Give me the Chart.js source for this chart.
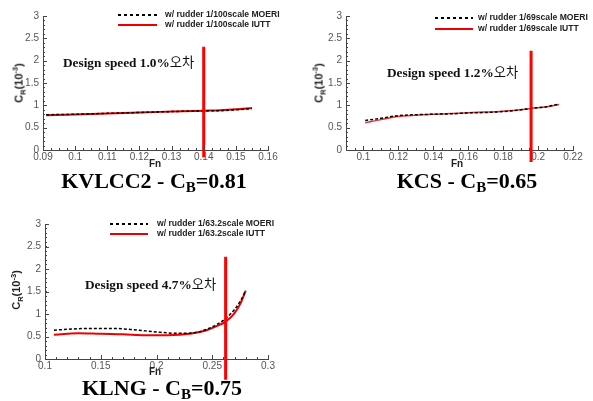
<!DOCTYPE html>
<html>
<head>
<meta charset="utf-8">
<script src="https://cdn.jsdelivr.net/npm/chart.js@4.4.1/dist/chart.umd.min.js"></script>
<style>
  body { margin: 0; background: #fff; width: 593px; height: 401px; overflow: hidden; position: relative; }
  canvas { position: absolute; }
  .lbl { position: absolute; white-space: nowrap; }
  .legend { font: bold 8.6px "Liberation Sans", Arial, sans-serif; color: #222; }
  .swatch { position: absolute; height: 2px; }
  .dash { background: repeating-linear-gradient(to right, #000 0 3px, transparent 3px 6px); }
  .solid { background: #e00; }
  .design { font: bold 13.3px "Liberation Serif", "Times New Roman", serif; color: #111; transform: translateY(-50%); }
  .design .ko { font-family: "Noto Sans CJK KR", sans-serif; font-weight: normal; }
  .axis-x { font: bold 10px "Liberation Sans", Arial, sans-serif; color: #222; transform: translate(-50%, -50%); }
  .axis-y { font: bold 11px "Liberation Sans", Arial, sans-serif; color: #222; transform: translate(-50%, -50%) rotate(-90deg); }
  .axis-y sub, .axis-y sup { font-size: 7.5px; }
  .title { font: bold 22px "Liberation Serif", "Times New Roman", serif; color: #000; transform: translate(-50%, -50%); }
  .title sub { font-size: 15px; vertical-align: -4px; line-height: 0; }
</style>
</head>
<body>
<canvas id="c1" width="300" height="175" style="left:0;top:0"></canvas>
<canvas id="c2" width="293" height="175" style="left:300px;top:0"></canvas>
<canvas id="c3" width="300" height="175" style="left:0;top:205px"></canvas>

<!-- KVLCC2 -->
<div class="swatch dash" style="left:118px;top:14px;width:39px"></div>
<div class="swatch solid" style="left:118px;top:24px;width:39px"></div>
<div class="lbl legend" style="left:165px;top:9px">w/ rudder 1/100scale MOERI</div>
<div class="lbl legend" style="left:165px;top:19px">w/ rudder 1/100scale IUTT</div>
<div class="lbl design" style="left:63px;top:61px">Design speed 1.0%<span class="ko">오차</span></div>
<div class="lbl axis-x" style="left:155px;top:163px">Fn</div>
<div class="lbl axis-y" style="left:19px;top:83px">C<sub>R</sub>(10<sup>-3</sup>)</div>
<div class="lbl title" style="left:154px;top:181px">KVLCC2 - C<sub>B</sub>=0.81</div>

<!-- KCS -->
<div class="swatch dash" style="left:435px;top:17px;width:38px"></div>
<div class="swatch solid" style="left:435px;top:28px;width:38px"></div>
<div class="lbl legend" style="left:478px;top:12px">w/ rudder 1/69scale MOERI</div>
<div class="lbl legend" style="left:478px;top:23px">w/ rudder 1/69scale IUTT</div>
<div class="lbl design" style="left:387px;top:71px">Design speed 1.2%<span class="ko">오차</span></div>
<div class="lbl axis-x" style="left:457px;top:163px">Fn</div>
<div class="lbl axis-y" style="left:319px;top:83px">C<sub>R</sub>(10<sup>-3</sup>)</div>
<div class="lbl title" style="left:467px;top:181px">KCS - C<sub>B</sub>=0.65</div>

<!-- KLNG -->
<div class="swatch dash" style="left:110px;top:223px;width:38px"></div>
<div class="swatch solid" style="left:110px;top:233px;width:38px"></div>
<div class="lbl legend" style="left:157px;top:218px">w/ rudder 1/63.2scale MOERI</div>
<div class="lbl legend" style="left:157px;top:228px">w/ rudder 1/63.2scale IUTT</div>
<div class="lbl design" style="left:85px;top:283px">Design speed 4.7%<span class="ko">오차</span></div>
<div class="lbl axis-x" style="left:155px;top:371px">Fn</div>
<div class="lbl axis-y" style="left:17px;top:290px">C<sub>R</sub>(10<sup>-3</sup>)</div>
<div class="lbl title" style="left:162px;top:388px">KLNG - C<sub>B</sub>=0.75</div>

<script>
// === Data ===
const yTicks = [0, 0.5, 1, 1.5, 2, 2.5, 3];

// KVLCC2
const kvlccFn = [0.091, 0.10, 0.11, 0.12, 0.13, 0.14, 0.145, 0.15, 0.155];
const kvlccMoeri = [0.79, 0.80, 0.82, 0.84, 0.86, 0.875, 0.88, 0.90, 0.93];
const kvlccIutt = [0.78, 0.795, 0.815, 0.84, 0.86, 0.88, 0.89, 0.91, 0.94];
const kvlccXTicks = [0.09, 0.1, 0.11, 0.12, 0.13, 0.14, 0.15, 0.16];
const kvlccDesign = [0.14, 2.31, -0.16]; // Fn, top, bottom

// KCS
const kcsFn = [0.101, 0.11, 0.12, 0.13, 0.14, 0.15, 0.16, 0.17, 0.18, 0.19, 0.196, 0.205, 0.212];
const kcsMoeri = [0.66, 0.71, 0.77, 0.79, 0.80, 0.81, 0.83, 0.84, 0.86, 0.90, 0.93, 0.97, 1.03];
const kcsIutt = [0.61, 0.68, 0.75, 0.78, 0.80, 0.815, 0.835, 0.85, 0.87, 0.90, 0.93, 0.97, 1.02];
const kcsXTicks = [0.1, 0.12, 0.14, 0.16, 0.18, 0.2, 0.22];
const kcsDesign = [0.196, 2.22, -0.27];

// KLNG
const klngFnMoeri = [0.108, 0.12, 0.14, 0.16, 0.18, 0.20, 0.22, 0.235, 0.245, 0.255, 0.262, 0.27, 0.275, 0.28];
const klngMoeri = [0.64, 0.66, 0.68, 0.68, 0.65, 0.60, 0.57, 0.59, 0.66, 0.78, 0.90, 1.10, 1.28, 1.52];
const klngFnIutt = [0.108, 0.12, 0.13, 0.15, 0.17, 0.19, 0.21, 0.23, 0.245, 0.255, 0.262, 0.27, 0.275, 0.28];
const klngIutt = [0.54, 0.56, 0.575, 0.56, 0.55, 0.53, 0.53, 0.56, 0.64, 0.74, 0.83, 1.02, 1.22, 1.52];
const klngXTicks = [0.1, 0.15, 0.2, 0.25, 0.3];
const klngDesign = [0.262, 2.27, -0.46];

// === Helpers ===
const pts = (xs, ys) => xs.map((x, i) => ({ x: x, y: ys[i] }));
const fmt = v => String(+(+v).toFixed(3));

// inward major + minor ticks, drawn from the scales
const innerTicks = {
    id: 'innerTicks',
    afterDraw(chart, args, opts) {
        const ctx = chart.ctx;
        const xs = chart.scales.x, ys = chart.scales.y;
        const area = chart.chartArea;
        ctx.save();
        ctx.strokeStyle = '#444';
        ctx.lineWidth = 1;
        ctx.beginPath();
        for (let v = xs.min; v <= xs.max + 1e-9; v += opts.xMinor) {
            const px = Math.round(xs.getPixelForValue(v)) + 0.5;
            ctx.moveTo(px, area.bottom); ctx.lineTo(px, area.bottom - 2);
        }
        xs.ticks.forEach(t => {
            const px = Math.round(xs.getPixelForValue(t.value)) + 0.5;
            ctx.moveTo(px, area.bottom); ctx.lineTo(px, area.bottom - 4);
        });
        for (let v = ys.min; v <= ys.max + 1e-9; v += opts.yMinor) {
            const py = Math.round(ys.getPixelForValue(v)) + 0.5;
            ctx.moveTo(area.left, py); ctx.lineTo(area.left + 2, py);
        }
        ys.ticks.forEach(t => {
            const py = Math.round(ys.getPixelForValue(t.value)) + 0.5;
            ctx.moveTo(area.left, py); ctx.lineTo(area.left + 4, py);
        });
        ctx.stroke();
        ctx.restore();
    }
};

function makeChart(id, cfg) {
    const tickFont = { family: '"Liberation Sans", Arial, sans-serif', size: 10 };
    return new Chart(document.getElementById(id), {
        type: 'line',
        data: {
            datasets: [
                {
                    label: 'design',
                    data: [{ x: cfg.design[0], y: cfg.design[1] }, { x: cfg.design[0], y: cfg.design[2] }],
                    borderColor: '#ff0000', borderWidth: 3, pointRadius: 0,
                    clip: false, order: 0
                },
                {
                    label: cfg.moeriLabel,
                    data: cfg.moeri,
                    borderColor: '#000', borderWidth: 1.5, borderDash: [3, 2],
                    pointRadius: 0, cubicInterpolationMode: 'monotone', order: 1
                },
                {
                    label: cfg.iuttLabel,
                    data: cfg.iutt,
                    borderColor: cfg.iuttColor, borderWidth: cfg.iuttWidth,
                    pointRadius: 0, cubicInterpolationMode: 'monotone', order: 2
                }
            ]
        },
        options: {
            responsive: false,
            animation: false,
            layout: { padding: cfg.padding },
            plugins: {
                legend: { display: false },
                tooltip: { enabled: false },
                innerTicks: { xMinor: cfg.xMinor, yMinor: 0.1 }
            },
            scales: {
                x: {
                    type: 'linear',
                    min: cfg.xMin, max: cfg.xMax,
                    afterBuildTicks: s => { s.ticks = cfg.xTicks.map(v => ({ value: v })); },
                    afterFit: s => { s.height = 20; },
                    grid: { display: false, drawTicks: false },
                    border: { color: '#444', width: 1 },
                    ticks: { font: tickFont, color: '#555', padding: 1, maxRotation: 0, autoSkip: false, callback: fmt }
                },
                y: {
                    type: 'linear',
                    min: 0, max: 3,
                    afterBuildTicks: s => { s.ticks = yTicks.map(v => ({ value: v })); },
                    afterFit: s => { s.width = cfg.yWidth; },
                    grid: { display: false, drawTicks: false },
                    border: { color: '#444', width: 1 },
                    ticks: { font: tickFont, color: '#555', padding: 4, autoSkip: false, callback: fmt }
                }
            }
        },
        plugins: [innerTicks]
    });
}

makeChart('c1', {
    moeri: pts(kvlccFn, kvlccMoeri), iutt: pts(kvlccFn, kvlccIutt),
    moeriLabel: 'w/ rudder 1/100scale MOERI', iuttLabel: 'w/ rudder 1/100scale IUTT',
    iuttColor: '#e00', iuttWidth: 2,
    design: kvlccDesign, xTicks: kvlccXTicks, xMin: 0.09, xMax: 0.16, xMinor: 0.0025,
    yWidth: 43, padding: { top: 16, right: 32, bottom: 5, left: 0 }
});

makeChart('c2', {
    moeri: pts(kcsFn, kcsMoeri), iutt: pts(kcsFn, kcsIutt),
    moeriLabel: 'w/ rudder 1/69scale MOERI', iuttLabel: 'w/ rudder 1/69scale IUTT',
    iuttColor: '#e33', iuttWidth: 1.5,
    design: kcsDesign, xTicks: kcsXTicks, xMin: 0.09, xMax: 0.22, xMinor: 0.005,
    yWidth: 46, padding: { top: 16, right: 20, bottom: 5, left: 0 }
});

makeChart('c3', {
    moeri: pts(klngFnMoeri, klngMoeri), iutt: pts(klngFnIutt, klngIutt),
    moeriLabel: 'w/ rudder 1/63.2scale MOERI', iuttLabel: 'w/ rudder 1/63.2scale IUTT',
    iuttColor: '#e00', iuttWidth: 2,
    design: klngDesign, xTicks: klngXTicks, xMin: 0.1, xMax: 0.3, xMinor: 0.01,
    yWidth: 45, padding: { top: 19, right: 32, bottom: 1, left: 0 }
});
</script>
</body>
</html>
